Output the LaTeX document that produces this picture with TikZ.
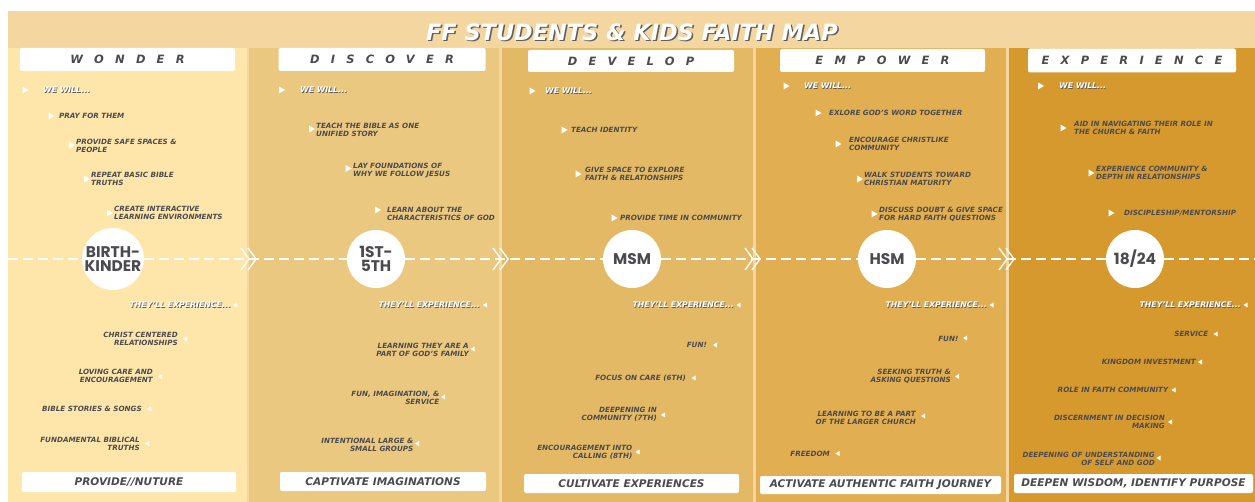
\documentclass[tikz,border=0pt]{standalone}
\usepackage{fontspec}
\setmainfont{DejaVu Sans}
\newfontfamily\stagefont{Poppins}
\usepackage{tikz}

\definecolor{bannerbg}{HTML}{F4D7A0}
\definecolor{wonderbg}{HTML}{FEE6AB}
\definecolor{discoverbg}{HTML}{EBC880}
\definecolor{developbg}{HTML}{E4B965}
\definecolor{empowerbg}{HTML}{E1AE51}
\definecolor{experiencebg}{HTML}{D6992E}
\definecolor{ink}{HTML}{4B4B4F}
\definecolor{shade}{HTML}{5E5E5E}

% white text with a dark drop shadow
\newcommand{\shtext}[2][.8bp]{\makebox[0pt][l]{\hspace{#1}\raisebox{-#1}{\color{shade}#2}}#2}

\begin{document}
\begin{tikzpicture}[x=1bp,y=-1bp,
  will/.style={font=\fontsize{7.2}{8}\selectfont\bfseries\itshape,text=ink,align=left,anchor=west,inner sep=0pt},
  willhd/.style={will,text=white,font=\fontsize{7.8}{8}\selectfont\bfseries\itshape},
  exp/.style={will,align=right,anchor=east},
  exphd/.style={willhd,anchor=east},
  hdbox/.style={fill=white,rounded corners=2bp,inner sep=0pt,text=ink,
    font=\fontsize{11.5}{12}\selectfont\bfseries\itshape\addfontfeature{LetterSpace=98}},
  goalbox/.style={fill=white,rounded corners=2bp,inner sep=0pt,minimum height=19bp,text=ink,
    font=\fontsize{10.6}{11}\selectfont\bfseries\itshape},
  stage/.style={circle,fill=white,minimum size=58bp,inner sep=0pt,align=center,text=ink,
    font=\stagefont\bfseries\fontsize{15.5}{14.5}\selectfont},
  flow/.style={white,line width=2.6bp,dash pattern=on 10bp off 5bp},
  willmark/.pic={\fill[white] (-3,-3.5) -- (3,0) -- (-3,3.5) -- cycle;},
  expmark/.pic={\fill[white] (2,-2.5) -- (-2,0) -- (2,2.5) -- cycle;},
  chev/.pic={\draw[white,line width=1.4bp] (-8,-11) -- (0,0) -- (-8,11) (-1,-11) -- (7,0) -- (-1,11);},
]
\useasboundingbox (0,0) rectangle (1255,502);
%%
\fill[bannerbg] (8,11) rectangle (1255,502);
\fill[wonderbg] (8,48) rectangle (247,502);
\fill[discoverbg] (248.5,48) rectangle (499,502);
\fill[developbg] (502,48) rectangle (753,502);
\fill[empowerbg] (756,48) rectangle (1006,502);
\fill[experiencebg] (1009,48) rectangle (1255,502);
%
\node (title) at (632,33) [text=white,font=\fontsize{22.5}{24}\selectfont\bfseries\itshape] {\shtext[1.5bp]{FF STUDENTS \& KIDS FAITH MAP}};
\node (wonder) at (127.5,59.5) [hdbox,minimum width=215bp,minimum height=23bp] {WONDER};
\node (discover) at (382,59.5) [hdbox,minimum width=207bp,minimum height=23bp] {DISCOVER};
\node (develop) at (631,61) [hdbox,minimum width=206bp,minimum height=22bp] {DEVELOP};
\node (empower) at (882.5,60.5) [hdbox,minimum width=205bp,minimum height=23bp] {EMPOWER};
\node (experience) at (1132,60.5) [hdbox,minimum width=208bp,minimum height=24bp] {EXPERIENCE};
%
\node (birth) at (113,259) [stage] {BIRTH-\\KINDER};
\node (kids) at (376,259) [stage] {1ST-\\5TH};
\node (msm) at (632,259) [stage] {MSM};
\node (hsm) at (887,259) [stage] {HSM};
\node (young) at (1135,259) [stage] {18/24};
\coordinate (lend) at (8,259);
\coordinate (rend) at (1255,259);
\draw [flow] (lend) -- (birth) -- (kids) -- (msm) -- (hsm) -- (young) -- (rend);
\pic at (249,259) {chev};
\pic at (501,259) {chev};
\pic at (753,259) {chev};
\pic at (1007,259) {chev};
%
\pic at (25.5,90) {willmark};   \node (wa0) at (43,90) [willhd] {\shtext{WE WILL...}};
\pic at (51.5,116) {willmark};  \node (wa1) at (59,116) [will] {PRAY FOR THEM};
\pic at (72,145) {willmark};    \node (wa2) at (76,145.5) [will] {PROVIDE SAFE SPACES \&\\PEOPLE};
\pic at (87,179) {willmark};    \node (wa3) at (91,179) [will] {REPEAT BASIC BIBLE\\TRUTHS};
\pic at (110,213) {willmark};   \node (wa4) at (114,213) [will] {CREATE INTERACTIVE\\LEARNING ENVIRONMENTS};
%
\pic at (282,90) {willmark};    \node (wb0) at (300,90) [willhd] {\shtext{WE WILL...}};
\pic at (312,129) {willmark};   \node (wb1) at (316,130) [will] {TEACH THE BIBLE AS ONE\\UNIFIED STORY};
\pic at (348.5,168.5) {willmark}; \node (wb2) at (353,171) [will] {LAY FOUNDATIONS OF\\WHY WE FOLLOW JESUS};
\pic at (378,210) {willmark};   \node (wb3) at (387,214) [will] {LEARN ABOUT THE\\CHARACTERISTICS OF GOD};
%
\pic at (532.5,91) {willmark};  \node (wc0) at (545,91) [willhd] {\shtext{WE WILL...}};
\pic at (564.5,130) {willmark}; \node (wc1) at (571,130) [will] {TEACH IDENTITY};
\pic at (578.5,174) {willmark}; \node (wc2) at (585,174) [will] {GIVE SPACE TO EXPLORE\\FAITH \& RELATIONSHIPS};
\pic at (614.5,218) {willmark}; \node (wc3) at (620,218) [will] {PROVIDE TIME IN COMMUNITY};
%
\pic at (786.5,86) {willmark};  \node (wd0) at (804,86) [willhd] {\shtext{WE WILL...}};
\pic at (818.5,113) {willmark}; \node (wd1) at (829,113) [will] {EXLORE GOD'S WORD TOGETHER};
\pic at (838.5,144) {willmark}; \node (wd2) at (849,144) [will] {ENCOURAGE CHRISTLIKE\\COMMUNITY};
\pic at (860,179) {willmark};   \node (wd3) at (864,179) [will] {WALK STUDENTS TOWARD\\CHRISTIAN MATURITY};
\pic at (874.5,214) {willmark}; \node (wd4) at (879,214) [will] {DISCUSS DOUBT \& GIVE SPACE\\FOR HARD FAITH QUESTIONS};
%
\pic at (1041,86) {willmark};   \node (we0) at (1059,86) [willhd] {\shtext{WE WILL...}};
\pic at (1063.5,128) {willmark}; \node (we1) at (1074,128) [will] {AID IN NAVIGATING THEIR ROLE IN\\THE CHURCH \& FAITH};
\pic at (1091.5,173) {willmark}; \node (we2) at (1096,173) [will] {EXPERIENCE COMMUNITY \&\\DEPTH IN RELATIONSHIPS};
\pic at (1111.5,213) {willmark}; \node (we3) at (1124,213) [will] {DISCIPLESHIP/MENTORSHIP};
%
\node (ea0) at (231,305) [exphd] {\shtext{THEY'LL EXPERIENCE...}}; \pic at (235,305) {expmark};
\node (ea1) at (178,339) [exp] {CHRIST CENTERED\\RELATIONSHIPS};        \pic at (185,339) {expmark};
\node (ea2) at (153,376) [exp] {LOVING CARE AND\\ENCOURAGEMENT};        \pic at (160,376.5) {expmark};
\node (ea3) at (142,409) [exp] {BIBLE STORIES \& SONGS};                \pic at (149,409) {expmark};
\node (ea4) at (140,443.5) [exp] {FUNDAMENTAL BIBLICAL\\TRUTHS};        \pic at (147,443.5) {expmark};
%
\node (eb0) at (480,305) [exphd] {\shtext{THEY'LL EXPERIENCE...}}; \pic at (485,305) {expmark};
\node (eb1) at (469,350) [exp] {LEARNING THEY ARE A\\PART OF GOD'S FAMILY}; \pic at (472.5,349) {expmark};
\node (eb2) at (439.5,397.5) [exp] {FUN, IMAGINATION, \&\\SERVICE};     \pic at (443,397) {expmark};
\node (eb3) at (413.5,444.5) [exp] {INTENTIONAL LARGE \&\\SMALL GROUPS}; \pic at (417,443.5) {expmark};
%
\node (ec0) at (734,305) [exphd] {\shtext{THEY'LL EXPERIENCE...}}; \pic at (738.5,305) {expmark};
\node (ec1) at (707,345) [exp] {FUN!};                                  \pic at (715,345) {expmark};
\node (ec2) at (686,378) [exp] {FOCUS ON CARE (6TH)};                   \pic at (693.5,378) {expmark};
\node (ec3) at (657,414.5) [exp] {DEEPENING IN\\COMMUNITY (7TH)};       \pic at (663,415) {expmark};
\node (ec4) at (632.5,452) [exp] {ENCOURAGEMENT INTO\\CALLING (8TH)};   \pic at (637.5,452) {expmark};
%
\node (ed0) at (987,305) [exphd] {\shtext{THEY'LL EXPERIENCE...}}; \pic at (991.5,305) {expmark};
\node (ed1) at (958.5,339) [exp] {FUN!};                                \pic at (965,338) {expmark};
\node (ed2) at (951,376.5) [exp] {SEEKING TRUTH \&\\ASKING QUESTIONS};  \pic at (957,376.5) {expmark};
\node (ed3) at (916,417.5) [exp] {LEARNING TO BE A PART\\OF THE LARGER CHURCH}; \pic at (923,416) {expmark};
\node (ed4) at (830,454) [exp] {FREEDOM};                               \pic at (837.5,453.5) {expmark};
%
\node (ee0) at (1241,305) [exphd] {\shtext{THEY'LL EXPERIENCE...}}; \pic at (1245.5,305) {expmark};
\node (ee1) at (1208.5,334) [exp] {SERVICE};                            \pic at (1215.5,334) {expmark};
\node (ee2) at (1196,362) [exp] {KINGDOM INVESTMENT};                   \pic at (1200,362) {expmark};
\node (ee3) at (1168.5,390) [exp] {ROLE IN FAITH COMMUNITY};            \pic at (1173.5,390) {expmark};
\node (ee4) at (1165,422) [exp] {DISCERNMENT IN DECISION\\MAKING};      \pic at (1170,422) {expmark};
\node (ee5) at (1155,458.5) [exp] {DEEPENING OF UNDERSTANDING\\OF SELF AND GOD}; \pic at (1158.5,458) {expmark};
%
\node (nurture) at (129,482) [goalbox,minimum width=214bp,minimum height=20bp] {PROVIDE//NUTURE};
\node (captivate) at (383,481.5) [goalbox,minimum width=206bp] {CAPTIVATE IMAGINATIONS};
\node (cultivate) at (631.5,483.5) [goalbox,minimum width=215bp] {CULTIVATE EXPERIENCES};
\node (activate) at (880.5,485) [goalbox,minimum width=241bp,minimum height=18bp] {ACTIVATE AUTHENTIC FAITH JOURNEY};
\node (deepen) at (1133.5,483.5) [goalbox,minimum width=239bp] {DEEPEN WISDOM, IDENTIFY PURPOSE};
%
\end{tikzpicture}
\end{document}
